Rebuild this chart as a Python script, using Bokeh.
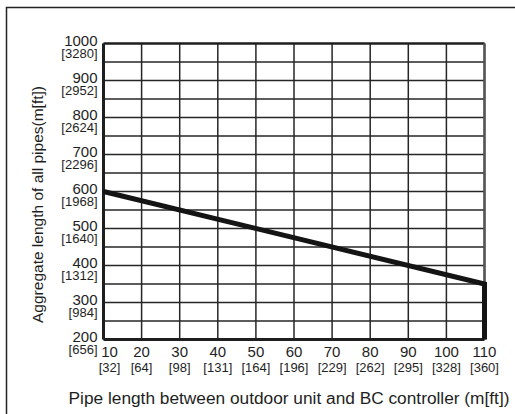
import math
from bokeh.plotting import figure
from bokeh.models import Label
from bokeh.core.properties import value
from bokeh.embed import file_html
from bokeh.resources import INLINE

# ---- data ----
x_ticks = [10, 20, 30, 40, 50, 60, 70, 80, 90, 100, 110]
x_ft = ["[32]", "[64]", "[98]", "[131]", "[164]", "[196]", "[229]", "[262]", "[295]", "[328]", "[360]"]
y_ticks = [200, 300, 400, 500, 600, 700, 800, 900, 1000]
y_ft = ["[656]", "[984]", "[1312]", "[1640]", "[1968]", "[2296]", "[2624]", "[2952]", "[3280]"]
y_grid = [250, 300, 350, 400, 450, 500, 550, 600, 650, 700, 750, 800, 850, 900, 950]

line_x = [10, 110, 110]
line_y = [600, 350, 200]

x_title = "Pipe length between outdoor unit and BC controller (m[ft])"
y_title = "Aggregate length of all pipes(m[ft])"

FONT = "Liberation Sans"
INK = "#1e1e1e"

W, H = 515, 414
# plot-area placement (pixels) -> ranges
PX_L, PX_R, PY_T, PY_B = 103, 484, 43, 339
BOX_L, BOX_T = 6, 7
xmin, xmax = x_ticks[0], x_ticks[-1]
ymin, ymax = y_ticks[0], y_ticks[-1]
kx = (PX_R - PX_L) / (xmax - xmin)
ky = (PY_B - PY_T) / (ymax - ymin)
x0r, x1r = xmin - PX_L / kx, xmax + (W - PX_R) / kx
y0r, y1r = ymin - (H - PY_B) / ky, ymax + PY_T / ky

p = figure(width=W, height=H, output_backend="svg", toolbar_location=None,
           x_range=(x0r, x1r), y_range=(y0r, y1r),
           min_border=0, min_border_left=0, min_border_right=0,
           min_border_top=0, min_border_bottom=0)
p.axis.visible = False
p.grid.visible = False
p.outline_line_color = None
p.background_fill_color = "white"
p.border_fill_color = "white"

# outer box (only left/top edges visible)
bx = x0r + BOX_L / kx
by = y1r - BOX_T / ky
p.line([bx, bx, x1r + 20], [y0r - 50, by, by], line_color="#222222", line_width=1.5,
       line_join="miter")

nx = len(x_ticks)
ng = len(y_grid)
# grid
p.segment(x0=x_ticks, y0=[ymin] * nx, x1=x_ticks, y1=[ymax] * nx,
          line_color="#262626", line_width=1.5)
p.segment(x0=[xmin] * ng, y0=y_grid, x1=[xmax] * ng, y1=y_grid,
          line_color="#262626", line_width=1.5)
# frame edges
p.segment(x0=[xmin], y0=[ymax], x1=[xmax], y1=[ymax], line_color=INK, line_width=2.5)
p.segment(x0=[xmax], y0=[ymin], x1=[xmax], y1=[ymax], line_color="#555555", line_width=2.5)
p.segment(x0=[xmin, xmin], y0=[ymin, ymin], x1=[xmax, xmin], y1=[ymin, ymax],
          line_color=INK, line_width=3)

# data line
p.line(line_x, line_y, line_width=5, line_color="#141414", line_join="miter")

# x tick labels
x_off = [6] + [0] * (nx - 1)
p.text(x=x_ticks, y=[ymin] * nx, text=[str(t) for t in x_ticks], x_offset=x_off, y_offset=12,
       text_align="center", text_baseline="alphabetic", text_font=value(FONT),
       text_font_size="15px", text_color=INK)
p.text(x=x_ticks, y=[ymin] * nx, text=x_ft, x_offset=x_off, y_offset=27.5,
       text_align="center", text_baseline="alphabetic", text_font=value(FONT),
       text_font_size="13px", text_color=INK)

# y tick labels
ny = len(y_ticks)
p.text(x=[xmin] * ny, y=y_ticks, text=[str(t) for t in y_ticks], x_offset=-6, y_offset=-3,
       text_align="right", text_baseline="alphabetic", text_font=value(FONT),
       text_font_size="15px", text_color=INK)
p.text(x=[xmin] * ny, y=y_ticks, text=y_ft, x_offset=-6, y_offset=10,
       text_align="right", text_baseline="alphabetic", text_font=value(FONT),
       text_font_size="13px", text_color=INK)

# axis titles
p.add_layout(Label(x=288.5, y=H - 397, x_units="screen", y_units="screen", text=x_title,
                   text_align="center", text_baseline="alphabetic",
                   text_font=FONT, text_font_size="17.3px", text_color=INK))
p.add_layout(Label(x=37, y=H - 204, x_units="screen", y_units="screen", text=y_title,
                   text_align="center", text_baseline="middle", angle=math.pi / 2,
                   text_font=FONT, text_font_size="15.5px", text_color=INK))

open("out.html", "w").write(file_html(p, INLINE))
